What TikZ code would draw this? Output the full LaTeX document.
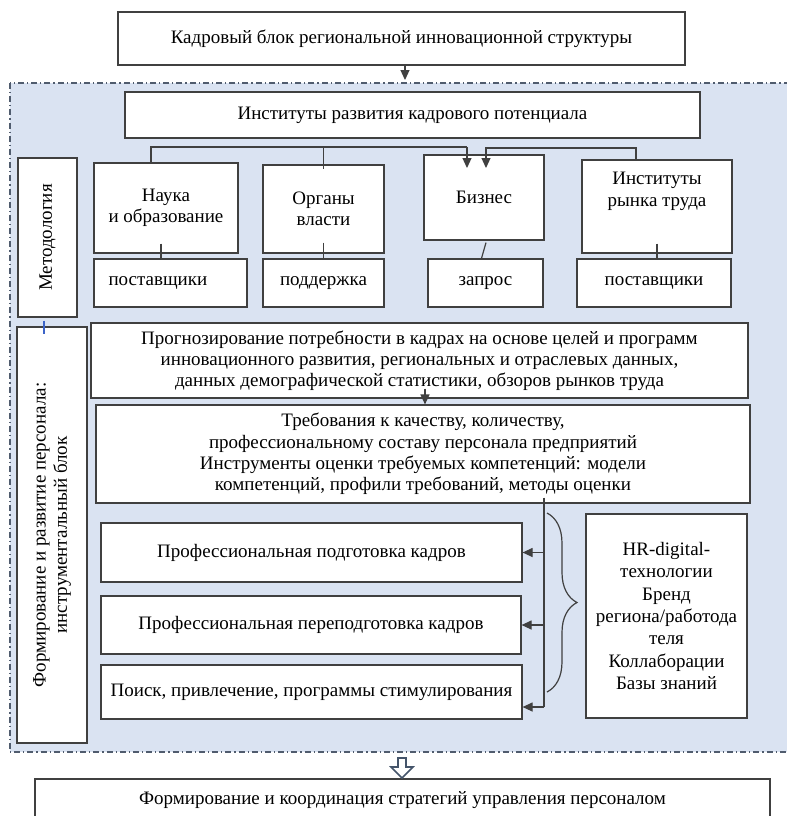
\documentclass[tikz,border=0pt]{standalone}
\usepackage{fontspec}
\setmainfont{Liberation Serif}
\usepackage{graphicx}
\usetikzlibrary{positioning, calc, arrows.meta, decorations.pathreplacing}
\definecolor{regfill}{RGB}{218,227,242}
\definecolor{boxline}{RGB}{64,64,64}
\definecolor{dashline}{RGB}{80,92,110}
\definecolor{hollowline}{RGB}{68,84,106}
\definecolor{tickblue}{RGB}{60,100,200}
\tikzset{
	blktext/.style={align=center, font=\fontsize{9.5}{10.6}\selectfont},
	blk/.style={blktext, draw=boxline, fill=white, line width=0.6pt, inner sep=2pt},
	conn/.style={draw=boxline, line width=0.6pt},
	arr/.style={conn, -{Triangle[length=5pt,width=4.5pt]}},
}

\begin{document}
\begin{tikzpicture}[x=0.5pt, y=-0.5pt]
		\useasboundingbox (0,0) rectangle (787,816);
		\clip (0,0) rectangle (787,816);
		\fill[white] (0,0) rectangle (787,816);
		% region of the structure
		\draw[fill=regfill, draw=dashline, line width=0.6pt, dash pattern=on 3pt off 1.5pt on 0.6pt off 1.5pt] (10,83) rectangle (800,752);
		
		\node[blk, minimum width=283.5pt, minimum height=26.5pt] (title) at (401.5,38.5) {Кадровый блок региональной инновационной структуры};
		\node[blk, minimum width=287.5pt, minimum height=23pt] (inst) at (412.5,115) {Институты развития кадрового потенциала};
		
		\node[blk, minimum width=72pt, minimum height=45pt] (nauka) at (166,208) {Наука\\и образование};
		\node[blk, minimum width=60.5pt, minimum height=44pt] (organy) at (323.5,209) {Органы\\власти};
		\node[blk, minimum width=60pt, minimum height=42.5pt] (biznes) at (484,197.5) {Бизнес};
		\node[blk, minimum width=75pt, minimum height=46.5pt, label={[blktext, anchor=north, yshift=-3pt]north:{Институты\\рынка труда}}] (rynok) at (657,206.5) {};
		
		\node[blk, minimum width=76.5pt, minimum height=24pt, text width=62pt, align=left] (post1) at (170.5,283) {поставщики};
		\node[blk, minimum width=60.5pt, minimum height=24pt] (post2) at (323.5,283) {поддержка};
		\node[blk, minimum width=57.5pt, minimum height=24pt] (zapros) at (485.5,283) {запрос};
		\node[blk, minimum width=77pt, minimum height=24pt] (post3) at (654,283) {поставщики};
		
		\node[blk, minimum width=29.5pt, minimum height=79.5pt] (metod) at (47.5,237.5) {\rotatebox{90}{Методология}};
		\node[blk, minimum width=35pt, minimum height=208pt] (form) at (52,535) {\rotatebox{90}{\begin{tabular}{@{}c@{}}Формирование и развитие персонала:\\инструментальный блок\end{tabular}}};
		
		\node[blk, minimum width=328.5pt, minimum height=37.5pt] (prog) at (419.5,360.5) {Прогнозирование потребности в кадрах на основе целей и программ\\инновационного развития, региональных и отраслевых данных,\\данных демографической статистики, обзоров рынков труда};
		\node[blk, minimum width=327pt, minimum height=49pt] (treb) at (423,454) {Требования к качеству, количеству,\\профессиональному составу персонала предприятий\\Инструменты оценки требуемых компетенций: модели\\компетенций, профили требований, методы оценки};
		
		\node[blk, minimum width=210.5pt, minimum height=29.5pt] (podg) at (311.5,552.5) {Профессиональная подготовка кадров};
		\node[blk, minimum width=210pt, minimum height=29pt] (perep) at (311,625) {Профессиональная переподготовка кадров};
		\node[blk, minimum width=210.5pt, minimum height=27pt] (poisk) at (311.5,692) {Поиск, привлечение, программы стимулирования};
		\node[blk, minimum width=80.5pt, minimum height=102pt, font=\fontsize{9.5}{11.2}\selectfont] (hr) at (666.5,616) {HR-digital-\\технологии\\Бренд\\региона/работода\\теля\\Коллаборации\\Базы знаний};
		
		\node[blk, minimum width=367.5pt, minimum height=21.5pt] (strat) at (402.5,800.5) {Формирование и координация стратегий управления персоналом};
		
		% connectors
		\coordinate (regtop) at (405,80);
		\draw[arr] (title.south -| regtop) -- (regtop);
		
		\coordinate (busL) at (151,147);
		\coordinate (busM) at (467,147);
		\coordinate (busR) at (486,148);
		\coordinate (bizL) at (467,168);
		\coordinate (bizR) at (486,168);
		\draw[conn] (busL |- nauka.north) -- (busL) -- (busM);
		\draw[conn] (organy.north |- busL) -- ([yshift=-2.5pt]organy.north);
		\draw[arr] (busM) -- (bizL);
		\draw[arr] ([xshift=-10.5pt]rynok.north) |- (busR) -- (bizR);
		
		\draw[conn] ([xshift=-2.5pt,yshift=5pt]nauka.south) -- ([xshift=-2.5pt]nauka.south |- post1.north);
		\draw[conn] ([yshift=5.5pt]organy.south) -- (organy.south |- post2.north);
		\draw[conn] ([xshift=1pt,yshift=-1pt]biznes.south) -- ([xshift=-2pt]zapros.north);
		\draw[conn] ([yshift=5pt]rynok.south) -- (rynok.south |- post3.north);
		
		\draw[draw=tickblue, line width=0.6pt] ([xshift=-1.75pt,yshift=-1.5pt]metod.south) -- ([xshift=-4pt,yshift=-4pt]form.north);
		
		\draw[arr] ([xshift=2.75pt,yshift=5pt]prog.south) -- ([xshift=2.75pt]prog.south |- treb.north);
		
		\coordinate (spend) at (544,707);
		\draw[conn] ([yshift=3pt]treb.south -| spend) -- (spend);
		\draw[arr] (spend |- podg.east) -- (podg.east);
		\draw[arr] (spend |- perep.east) -- (perep.east);
		\draw[arr] (spend) -- (spend -| poisk.east);
		
		% brace towards the tools
		\coordinate (brTop) at (547,513);
		\coordinate (brBot) at (547,692);
		\draw[conn, decorate, decoration={brace, amplitude=15pt}] (brTop) -- (brBot);
		
		% hollow arrow down
		\draw[draw=hollowline, fill=white, line width=0.8pt, line join=miter] (398,758) -- (406,758) -- (406,767) -- (413,767) -- (402,778) -- (391,767) -- (398,767) -- cycle;
		
	\end{tikzpicture}
\end{document}
